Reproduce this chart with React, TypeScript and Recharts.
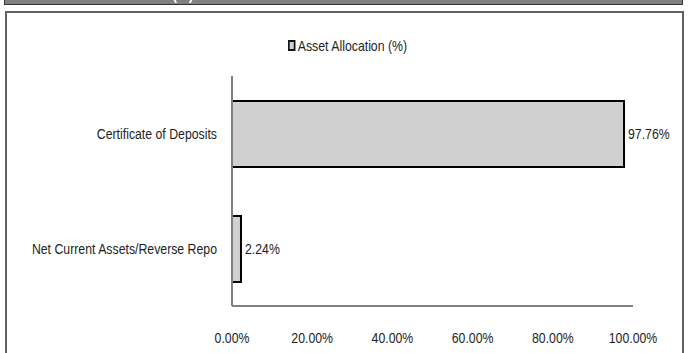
import React from 'react'
import { BarChart, Bar, XAxis, YAxis, Legend, LabelList } from 'recharts'

const categories = ['Certificate of Deposits', 'Net Current Assets/Reverse Repo']
const allocation = [97.76, 2.24]
const xTicks = [0, 20, 40, 60, 80, 100]
const seriesName = 'Asset Allocation (%)'
const heading = 'Asset Allocation (%)'

const data = categories.map((name, i) => ({ name, value: allocation[i] }))

const FONT = '"Liberation Sans", Arial, sans-serif'
const TEXT = '#1e1e1e'
const AXIS = '#808080'
const SQUEEZE = 0.82 // condensed look, no narrow face installed
const pct = (v: number) => Number(v).toFixed(2) + '%'

// text squeezed horizontally around its anchor point
function NarrowText({ x, y, anchor, dy, children }: any) {
  return (
    <text
      transform={`translate(${x},${y}) scale(${SQUEEZE},1)`}
      textAnchor={anchor}
      dy={dy}
      fontSize={15}
      fontFamily={FONT}
      fill={TEXT}
    >
      {children}
    </text>
  )
}

const YTick = (p: any) => (
  <NarrowText x={p.x} y={p.y} anchor="end" dy="0.355em">{p.payload.value}</NarrowText>
)

const XTick = (p: any) => (
  <NarrowText x={p.x} y={p.y} anchor="middle" dy="0.71em">{pct(p.payload.value)}</NarrowText>
)

const ValueLabel = (p: any) => (
  <NarrowText x={p.x + p.width + 4} y={p.y + p.height / 2} anchor="start" dy="0.355em">
    {pct(p.value)}
  </NarrowText>
)

function LegendBox() {
  return (
    <div style={{
      display: 'flex', alignItems: 'center', justifyContent: 'center',
      fontFamily: FONT, fontSize: 15, color: TEXT, lineHeight: '17px',
      transform: `scaleX(${SQUEEZE})`, transformOrigin: '50% 50%',
    }}>
      <span style={{
        display: 'inline-block', width: 5, height: 7,
        border: '2px solid #111', background: '#d0d0d0', marginRight: 3,
      }} />
      <span>{seriesName}</span>
    </div>
  )
}

export default function App() {
  return (
    <div style={{ position: 'absolute', left: 0, top: 0, width: 689, height: 353, background: '#fff', overflow: 'hidden' }}>
      {/* section heading strip, mostly scrolled off the top */}
      <div style={{
        position: 'absolute', left: 4, top: -20, width: 677, height: 23,
        background: '#808080', border: '1px solid #333', overflow: 'hidden',
      }}>
        <div style={{
          position: 'absolute', left: 0, width: 188, top: 8, textAlign: 'right',
          whiteSpace: 'nowrap', color: '#fff', fontWeight: 'bold',
          fontFamily: FONT, fontSize: 13, lineHeight: '13px',
        }}>
          {heading}
        </div>
      </div>

      {/* chart frame */}
      <div style={{
        position: 'absolute', left: 5, top: 11, width: 675, height: 360,
        border: '2px solid #606060', background: '#fff',
      }} />

      <div style={{ position: 'absolute', left: 0, top: 0 }}>
        <BarChart
          width={689}
          height={353}
          data={data}
          layout="vertical"
          margin={{ top: 59, right: 56, bottom: 0, left: 0 }}
          barSize={66}
        >
          <Legend
            verticalAlign="top"
            content={<LegendBox />}
            wrapperStyle={{ top: 37, left: 3, width: 689 }}
          />
          <Bar
            dataKey="value"
            name={seriesName}
            fill="#d0d0d0"
            stroke="#000"
            strokeWidth={2}
            isAnimationActive={false}
          >
            <LabelList dataKey="value" content={<ValueLabel />} />
          </Bar>
          <XAxis
            type="number"
            domain={[0, 100]}
            ticks={xTicks}
            axisLine={{ stroke: AXIS, strokeWidth: 2 }}
            tickLine={false}
            tickSize={0}
            tickMargin={26}
            height={47}
            tick={<XTick />}
            interval={0}
          />
          <YAxis
            type="category"
            dataKey="name"
            width={232}
            axisLine={{ stroke: AXIS, strokeWidth: 2 }}
            tickLine={false}
            tickSize={0}
            tickMargin={15}
            tick={<YTick />}
          />
        </BarChart>
      </div>
    </div>
  )
}
